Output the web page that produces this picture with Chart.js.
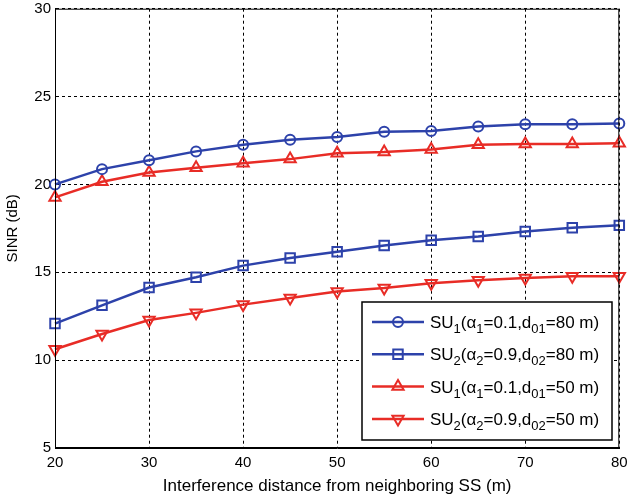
<!DOCTYPE html>
<html lang="en">
<head>
<meta charset="UTF-8">
<title>SINR vs interference distance</title>
<script src="https://cdn.jsdelivr.net/npm/chart.js"></script>
<style>
    html, body { margin: 0; padding: 0; background: #fff; }
    #wrap { width: 628px; height: 498px; }
</style>
</head>
<body>
<div id="wrap"><canvas id="sinrChart" width="628" height="498"></canvas></div>
<script>
// distance to neighboring SS (m)
const distances = [20, 25, 30, 35, 40, 45, 50, 55, 60, 65, 70, 75, 80];
// SINR (dB) per curve
const su1Far  = [20.0, 20.87, 21.37, 21.88, 22.26, 22.54, 22.7, 23.0, 23.04, 23.29, 23.42, 23.42, 23.47];
const su2Far  = [12.08, 13.12, 14.13, 14.72, 15.38, 15.81, 16.17, 16.53, 16.82, 17.03, 17.32, 17.54, 17.67];
const su1Near = [19.26, 20.15, 20.68, 20.95, 21.2, 21.44, 21.78, 21.84, 21.99, 22.26, 22.3, 22.3, 22.35];
const su2Near = [10.62, 11.49, 12.28, 12.69, 13.16, 13.54, 13.9, 14.1, 14.38, 14.54, 14.67, 14.78, 14.78];

const xTicks = [20, 30, 40, 50, 60, 70, 80];
const yTicks = [5, 10, 15, 20, 25, 30];

// legend text pieces: [text, isSubscript]
const legendLabels = [
    [['SU'], ['1', 1], ['(α'], ['1', 1], ['=0.1,d'], ['01', 1], ['=80 m)']],
    [['SU'], ['2', 1], ['(α'], ['2', 1], ['=0.9,d'], ['02', 1], ['=80 m)']],
    [['SU'], ['1', 1], ['(α'], ['1', 1], ['=0.1,d'], ['01', 1], ['=50 m)']],
    [['SU'], ['2', 1], ['(α'], ['2', 1], ['=0.9,d'], ['02', 1], ['=50 m)']]
];

const blue = 'rgb(45, 66, 170)';
const red = 'rgb(232, 44, 38)';
const fontFamily = '"Liberation Sans", Arial, sans-serif';

function toPoints(arr) {
    return distances.map((d, i) => ({ x: d, y: arr[i] }));
}

function makeSeries(arr, color, style, radius, rotation) {
    return {
        data: toPoints(arr),
        borderColor: color,
        borderWidth: 2.5,
        pointStyle: style,
        pointRadius: radius,
        pointRotation: rotation,
        pointBorderWidth: 2,
        pointBorderColor: color,
        pointBackgroundColor: 'rgba(0,0,0,0)',
        tension: 0,
        fill: false,
        clip: false
    };
}

const datasets = [
    makeSeries(su1Far, blue, 'circle', 5, 0),
    makeSeries(su2Far, blue, 'rect', 6.7, 0),
    makeSeries(su1Near, red, 'triangle', 6.5, 0),
    makeSeries(su2Near, red, 'triangle', 6.5, 180)
];

function drawMarker(ctx, ds, x, y) {
    ctx.save();
    ctx.strokeStyle = ds.pointBorderColor;
    ctx.lineWidth = ds.pointBorderWidth;
    ctx.beginPath();
    const r = ds.pointRadius;
    if (ds.pointStyle === 'circle') {
        ctx.arc(x, y, r, 0, Math.PI * 2);
    } else if (ds.pointStyle === 'rect') {
        const s = r * Math.SQRT2 / 2;
        ctx.rect(x - s, y - s, s * 2, s * 2);
    } else {
        const dir = ds.pointRotation === 180 ? -1 : 1;
        const h = r * Math.sqrt(3) / 2;
        ctx.moveTo(x, y - dir * r);
        ctx.lineTo(x - h, y + dir * r / 2);
        ctx.lineTo(x + h, y + dir * r / 2);
        ctx.closePath();
    }
    ctx.stroke();
    ctx.restore();
}

// box around the plot + legend with subscripts
const frameAndLegend = {
    id: 'frameAndLegend',
    afterDatasetsDraw(chart) {
        const ctx = chart.ctx;
        const a = chart.chartArea;
        ctx.save();
        ctx.strokeStyle = '#000';
        ctx.lineWidth = 1;
        ctx.strokeRect(a.left + 0.5, a.top + 0.5, a.right - a.left - 1, a.bottom - a.top - 1);

        const box = { x: 362, y: 302, w: 250, h: 138 };
        ctx.fillStyle = '#fff';
        ctx.fillRect(box.x, box.y, box.w, box.h);
        ctx.lineWidth = 1.5;
        ctx.strokeRect(box.x, box.y, box.w, box.h);

        legendLabels.forEach((parts, i) => {
            const ds = chart.data.datasets[i];
            const cy = 322 + i * 32.3;
            ctx.strokeStyle = ds.borderColor;
            ctx.lineWidth = ds.borderWidth;
            ctx.beginPath();
            ctx.moveTo(372, cy);
            ctx.lineTo(424, cy);
            ctx.stroke();
            drawMarker(ctx, ds, 398, cy);

            let x = 430;
            ctx.fillStyle = '#000';
            ctx.textBaseline = 'alphabetic';
            parts.forEach(p => {
                const sub = p[1] === 1;
                ctx.font = (sub ? '13px ' : '17px ') + fontFamily;
                ctx.fillText(p[0], x, cy + 6 + (sub ? 5 : 0));
                x += ctx.measureText(p[0]).width;
            });
        });
        ctx.restore();
    }
};

new Chart(document.getElementById('sinrChart'), {
    type: 'line',
    data: { datasets: datasets },
    options: {
        responsive: false,
        animation: false,
        devicePixelRatio: 1,
        layout: { padding: { top: 7, right: 4, left: 0, bottom: 0 } },
        plugins: {
            legend: { display: false },
            tooltip: { enabled: false }
        },
        scales: {
            x: {
                type: 'linear',
                min: 20,
                max: 80,
                afterBuildTicks: scale => { scale.ticks = xTicks.map(v => ({ value: v })); },
                afterFit: scale => { scale.height = 50; scale.paddingLeft = 0; scale.paddingRight = 0; },
                grid: { color: '#000', lineWidth: 1, drawTicks: false },
                border: { display: true, color: '#000', width: 1, dash: [3, 3] },
                ticks: { color: '#000', padding: 6, maxRotation: 0, font: { family: fontFamily, size: 15 } },
                title: {
                    display: true,
                    text: 'Interference distance from neighboring SS (m)',
                    color: '#000',
                    font: { family: fontFamily, size: 17 },
                    padding: { top: 0, bottom: 1 }
                }
            },
            y: {
                type: 'linear',
                min: 5,
                max: 30,
                afterBuildTicks: scale => { scale.ticks = yTicks.map(v => ({ value: v })); },
                afterFit: scale => { scale.width = 55; scale.paddingTop = 0; scale.paddingBottom = 0; },
                grid: { color: '#000', lineWidth: 1, drawTicks: false },
                border: { display: true, color: '#000', width: 1, dash: [3, 3] },
                ticks: { color: '#000', padding: 4, font: { family: fontFamily, size: 15 } },
                title: {
                    display: true,
                    text: 'SINR (dB)',
                    color: '#000',
                    font: { family: fontFamily, size: 15 },
                    padding: { top: 4, bottom: 0 }
                }
            }
        }
    },
    plugins: [frameAndLegend]
});
</script>
</body>
</html>
